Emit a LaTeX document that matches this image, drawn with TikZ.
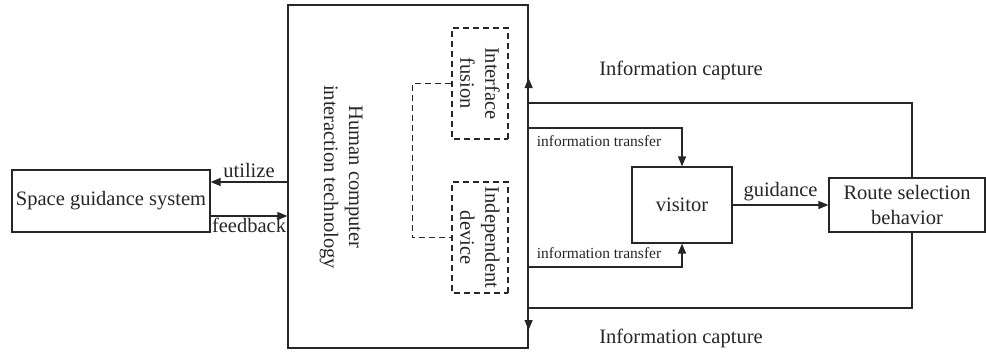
\documentclass[tikz,border=0pt]{standalone}
\usepackage{fontspec}
\setmainfont{Liberation Serif}
\usetikzlibrary{arrows.meta}

\begin{document}
\begin{tikzpicture}[x=1pt,y=-1pt,line width=1.2pt,color=black!85,
		font=\fontsize{20.5}{25}\selectfont]
			\useasboundingbox (0,0) rectangle (986,359);
			\tikzset{dashbox/.style={draw,dash pattern=on 6pt off 4pt,rotate=-90,align=center,
				minimum width=111pt,minimum height=56pt,inner sep=0pt},
				arr/.style={-{Triangle[length=10pt,width=8pt]}}}
			%
			\node[draw,minimum width=198pt,minimum height=62pt] (space) at (111,201) {Space guidance system};
			\node[draw,minimum width=240pt,minimum height=343pt] (hci) at (408,176.5) {};
			\node[rotate=-90,align=center] (hcitext) at (341,177) {Human computer\\interaction technology};
			\node[dashbox] (fusion) at (480,83.5) {Interface\\fusion};
			\node[dashbox] (device) at (480,237.5) {Independent\\device};
			\node[draw,minimum width=100pt,minimum height=76pt] (visitor) at (682,205) {visitor};
			\node[draw,align=center,minimum width=156pt,minimum height=54pt,inner sep=0pt] (route) at (907,205) {Route selection\\behavior};
			%
			\coordinate (ut) at ([yshift=19pt]space.east);
			\coordinate (fb) at ([yshift=-15pt]space.east);
			\coordinate (ctop) at (912,103);
			\coordinate (cbot) at (912,308);
			\coordinate (ttop) at (528,128);
			\coordinate (tbot) at (528,267);
			%
			\draw[arr] (ut -| hci.west) -- (ut) node [midway, above] {utilize};
			\draw[arr] (fb) -- (fb -| hci.west) node [midway, below, inner sep=1pt] {feedback};
			% rotated boxes: south anchor is the left side
			\draw[dash pattern=on 6pt off 4pt] (fusion.south) -- ++(-39,0) |- (device.south);
			%
			\draw[arr] (ctop |- route.north) -- (ctop) -- (ctop -| hci.east) -- ++(0,-25);
			\draw[arr] (cbot |- route.south) -- (cbot) -- (cbot -| hci.east) -- ++(0,22);
			\node (captop) at (681,70) {Information capture};
			\node (capbot) at (681,338) {Information capture};
			%
			\foreach \c/\v/\y in {ttop/visitor.north/141, tbot/visitor.south/253}
			{	\draw[arr] (\c) -| (\v);
				\node[font=\fontsize{15.5}{18}\selectfont] at (599,\y) {information transfer};
			}
			\draw[arr] (visitor.east) -- (route.west) node [midway, above] {guidance};
		\end{tikzpicture}
\end{document}
